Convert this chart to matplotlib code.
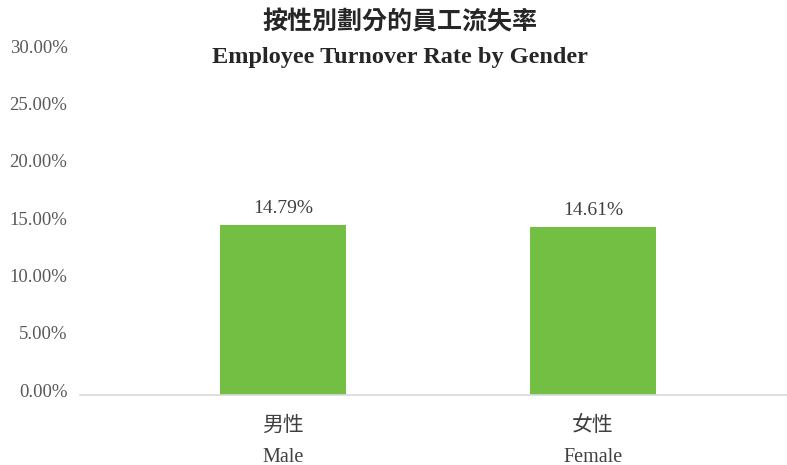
import matplotlib
matplotlib.use('Agg')
import matplotlib.pyplot as plt
import matplotlib.transforms as mtransforms
from matplotlib.ticker import PercentFormatter

# data
categories_zh = ["男性", "女性"]
categories_en = ["Male", "Female"]
turnover_rate = [0.1479, 0.1461]
y_ticks = [0.0, 0.05, 0.10, 0.15, 0.20, 0.25, 0.30]

SERIF = "Liberation Serif"
CJK = "Noto Sans CJK TC"
BAR_COLOR = "#72BF44"
TEXT_COLOR = "#404040"

fig = plt.figure(figsize=(7.87, 4.65), dpi=100)
ax = fig.add_axes([80 / 787, 70 / 465, 707 / 787, 344 / 465])

x = list(range(len(categories_zh)))
bars = ax.bar(x, turnover_rate, width=0.406, color=BAR_COLOR, zorder=2)

ax.set_xlim(-0.655, 1.626)
ax.set_ylim(0, 0.30)
ax.set_yticks(y_ticks)
ax.yaxis.set_major_formatter(PercentFormatter(1.0, decimals=2))
ax.tick_params(axis='y', length=0, pad=9, labelcolor="#595959", labelsize=13.5)
shift_up = mtransforms.ScaledTranslation(0, 5 / 100, fig.dpi_scale_trans)
for lbl in ax.get_yticklabels():
    lbl.set_fontfamily(SERIF)
    lbl.set_transform(lbl.get_transform() + shift_up)
ax.set_xticks([])

for side in ["top", "right", "left"]:
    ax.spines[side].set_visible(False)
ax.spines["bottom"].set_color("#D9D9D9")
ax.spines["bottom"].set_linewidth(1.2)

# value labels
for xi, v in zip(x, turnover_rate):
    ax.annotate(f"{v * 100:.2f}%", (xi, v), xytext=(0, 17), textcoords="offset pixels",
                ha="center", va="center", fontsize=14, family=SERIF, color=TEXT_COLOR)

# two-line category labels
trans = mtransforms.blended_transform_factory(ax.transData, ax.transAxes)
for xi, zh, en in zip(x, categories_zh, categories_en):
    ax.annotate(zh, (xi, 0), xycoords=trans, xytext=(0, -30), textcoords="offset pixels",
                ha="center", va="center", fontsize=15, family=CJK, color=TEXT_COLOR)
    ax.annotate(en, (xi, 0), xycoords=trans, xytext=(0, -62), textcoords="offset pixels",
                ha="center", va="center", fontsize=14.5, family=SERIF, color=TEXT_COLOR)

# title
fig.text(400 / 787, 1 - 22 / 465, "按性別劃分的員工流失率", ha="center", va="center",
         fontsize=18, family=CJK, fontweight="bold", color="#262626")
fig.text(400 / 787, 1 - 57 / 465, "Employee Turnover Rate by Gender", ha="center", va="center",
         fontsize=17.5, family=SERIF, fontweight="bold", color="#262626")

fig.savefig("out.png", dpi=100)
